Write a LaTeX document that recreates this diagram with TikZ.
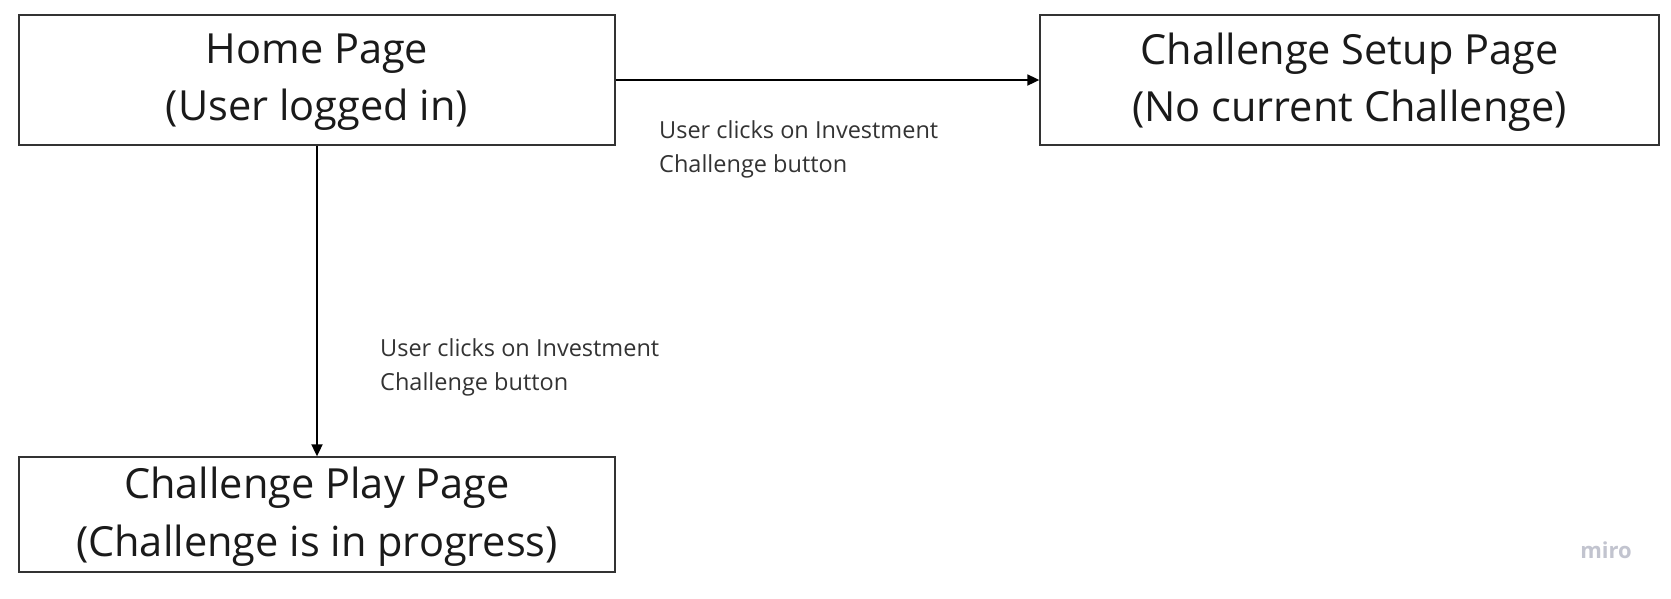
\documentclass[tikz,border=0pt]{standalone}
\usepackage{fontspec}
\setmainfont{Open Sans}
\usetikzlibrary{arrows.meta}
\definecolor{boxline}{HTML}{333333}
\definecolor{txt}{HTML}{1A1A1A}
\definecolor{lbl}{HTML}{333333}
\definecolor{mirogrey}{HTML}{C2C4CF}
\begin{document}
\begin{tikzpicture}[x=1pt,y=-1pt,
  pagebox/.style={draw=boxline,line width=1.3pt,fill=white,inner sep=0pt,
    minimum width=596pt,minimum height=130pt},
  pagetext/.style={align=center,text=txt,inner sep=0pt,
    font=\fontsize{41.5}{57.5}\selectfont},
  conn/.style={draw=black,line width=1.8pt,-{Triangle[length=12pt,width=11pt]}},
  lab/.style={anchor=north west,align=left,inner sep=0pt,text=lbl,
    font=\fontsize{23.5}{34}\selectfont}]
\useasboundingbox[fill=white] (0,0) rectangle (1671,598);
\node[pagebox] (home) at (317,80) {};
\node[pagebox,minimum width=619pt] (setup) at (1349.5,80) {};
\node[pagebox,minimum height=115pt] (play) at (317,514.5) {};
\node[pagetext] (homet) at ([yshift=-2.3pt]home.center) {Home Page\\(User logged in)};
\node[pagetext] (setupt) at ([yshift=-2.3pt]setup.center) {Challenge Setup Page\\(No current Challenge)};
\node[pagetext] (playt) at ([yshift=-2.3pt]play.center) {Challenge Play Page\\(Challenge is in progress)};
\draw[conn] (home.east) -- (setup.west);
\draw[conn] (home.south) -- (play.north);
\node[lab] (l1) at (659,120) {User clicks on Investment\\Challenge button};
\node[lab] (l2) at (380,338.5) {User clicks on Investment\\Challenge button};
\node[text=mirogrey,font=\fontsize{22}{26}\selectfont\bfseries] (miro) at (1606,550) {miro};
\end{tikzpicture}
\end{document}
